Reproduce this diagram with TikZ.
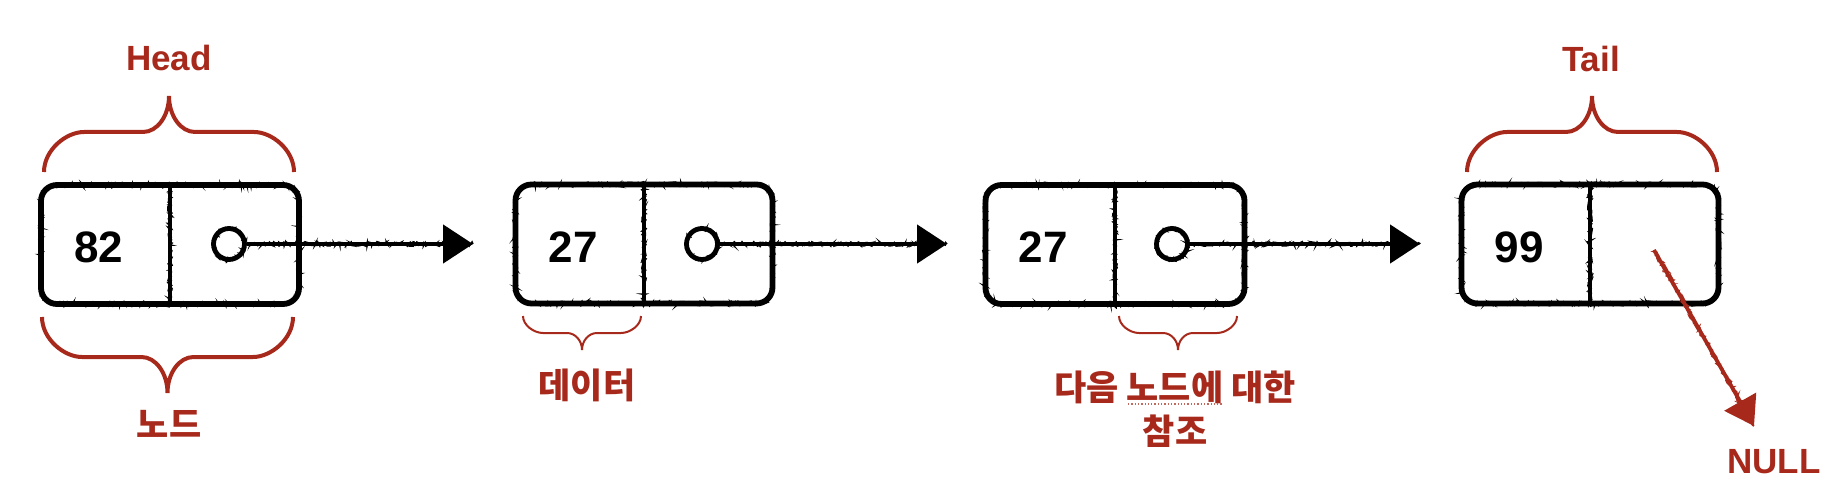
\documentclass[tikz,border=0pt]{standalone}
\usepackage{fontspec}
\setmainfont{Liberation Sans}
\newfontfamily\kr{Noto Sans CJK KR}
\usetikzlibrary{arrows.meta,calc,decorations.pathmorphing}
\definecolor{brick}{RGB}{167,41,27}
\pgfmathsetseed{7}
\tikzset{
 rough/.style={postaction={draw=#1, arrows=-, sharp corners, line width=1.4pt, decorate,
   decoration={random steps, segment length=1.2pt, amplitude=2.3pt}}},
 rough/.default=black,
 box/.style={draw=black, line width=5.8pt, rounded corners=16pt, minimum height=119pt, inner sep=0pt, rough},
 divider/.style={draw=black, line width=4.8pt, rough},
 num/.style={font=\fontsize{44}{48}\selectfont\bfseries, text=black, inner sep=0pt, anchor=base},
 ptr/.style={circle, draw=black, line width=4.8pt, minimum size=31pt, inner sep=0pt, rough},
 link/.style={draw=black, line width=4.8pt, -{Triangle[length=30pt,width=38pt]}, rough},
 nulllink/.style={draw=brick, line width=3.8pt, -{Triangle[length=28pt,width=36pt]}, rough=brick},
 bigbrace/.style={draw=brick, line width=4pt},
 smallbrace/.style={draw=brick, line width=2pt},
 lab/.style={font=\fontsize{35}{40}\selectfont\bfseries, text=brick, inner sep=0pt, anchor=base},
 klab/.style={font=\kr\fontsize{35}{40}\selectfont\bfseries, text=brick, inner sep=0pt, anchor=base},
 spell/.style={draw=brick!70, dotted, line width=1.3pt},
}
% #1 x left, #2 x right, #3 y of ends, #4 y of straight part, #5 y of tip, #6 end curve size, #7 tip curve size, #8 style
\newcommand{\Brace}[8]{%
\draw[#8] (#1,#3) .. controls (#1,{#4+0.45*(#3-#4)}) and ({#1+0.55*#6},#4) .. ({#1+#6},#4)
 -- ({(#1+#2)/2-#7},#4) .. controls ({(#1+#2)/2-0.45*#7},#4) and ({(#1+#2)/2},{#4+0.45*(#5-#4)}) .. ({(#1+#2)/2},#5)
 .. controls ({(#1+#2)/2},{#4+0.45*(#5-#4)}) and ({(#1+#2)/2+0.45*#7},#4) .. ({(#1+#2)/2+#7},#4)
 -- ({#2-#6},#4) .. controls ({#2-0.55*#6},#4) and (#2,{#4+0.45*(#3-#4)}) .. (#2,#3);}
\begin{document}
\begin{tikzpicture}[x=1pt,y=-1pt]
\useasboundingbox (0,0) rectangle (1844,492);
% list nodes
\node[box, minimum width=258pt] (n1) at (170,244.5) {};
\node[box, minimum width=257pt] (n2) at (644,244) {};
\node[box, minimum width=259pt] (n3) at (1115,244.5) {};
\node[box, minimum width=257pt] (n4) at (1590,244) {};
\foreach \n in {n1,n2,n3,n4} \draw[divider] (\n.north) -- (\n.south);
% values
\node[num] (v1) at (99,262) {82};
\node[num] (v2) at (573,262) {27};
\node[num] (v3) at (1043,262) {27};
\node[num] (v4) at (1519,262) {99};
% pointers
\node[ptr] (c1) at (229,244) {};
\node[ptr] (c2) at (702,244) {};
\node[ptr] (c3) at (1172,244) {};
\coordinate (t1) at (473,244);
\coordinate (t2) at (947,244);
\coordinate (t3) at (1420,244);
\draw[link] (c1.east) -- (t1);
\draw[link] (c2.east) -- (t2);
\draw[link] (c3.east) -- (t3);
\coordinate (p4) at (1654,250);
\coordinate (q4) at (1754,426);
\draw[nulllink] (p4) -- (q4);
% braces
\Brace{44}{294}{172}{132}{96}{40}{26}{bigbrace}
\Brace{42}{293}{317}{357}{393}{40}{26}{bigbrace}
\Brace{1467}{1717}{172}{132}{96}{40}{26}{bigbrace}
\Brace{523}{641}{316}{333}{350}{20}{15}{smallbrace}
\Brace{1119}{1237}{316}{333}{350}{20}{15}{smallbrace}
% labels
\node[lab] (head) at (169,71) {Head};
\node[lab] (tail) at (1591,72) {Tail};
\node[lab] (null) at (1774,473) {NULL};
\node[klab] (lnode) at (169,437) {노드};
\node[klab] (ldata) at (587,398) {데이터};
\node[klab] (lref) at (1175,400) {다음 노드에 대한};
\node[klab] (lref2) at (1175,444) {참조};
\draw[spell] (1128,404) -- (1222,404);
\end{tikzpicture}
\end{document}
